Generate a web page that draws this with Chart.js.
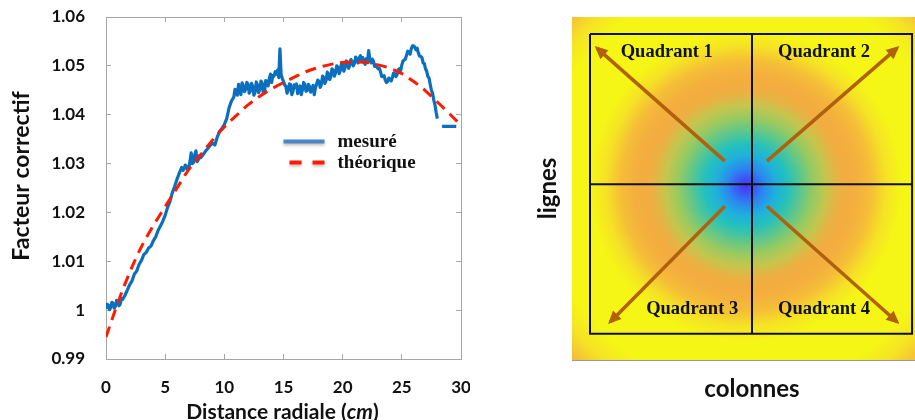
<!DOCTYPE html>
<html><head><meta charset="utf-8">
<script src="https://cdn.jsdelivr.net/npm/chart.js@4.4.1/dist/chart.umd.min.js"></script>
<style>
html,body{margin:0;padding:0;background:#fff;overflow:hidden;width:915px;height:420px;}
#w1{position:absolute;left:0;top:0;width:470px;height:420px;}
#w2{position:absolute;left:530px;top:0;width:402px;height:420px;}
</style></head><body>
<div id="w1"><canvas id="c1" width="470" height="420"></canvas></div>
<div id="w2"><canvas id="c2" width="402" height="420"></canvas></div>
<script>
// ================= DATA =================
// Left chart: correction factor vs radial distance (cm)
const measuredX = [
 0.0,0.1,0.2,0.3,0.4,0.5,0.6,0.7,0.8,0.9,1.0,1.1,1.2,1.3,1.4,
 1.6,1.8,2.0,2.2,2.4,2.6,2.8,3.0,3.2,3.4,3.6,3.8,4.0,4.2,4.4,4.6,4.8,5.0,5.2,5.4,5.6,5.8,6.0,6.2,
 6.4,6.5,6.6,6.7,6.8,6.9,7.0,7.1,7.2,7.3,7.4,7.5,7.6,7.7,7.8,7.9,8.0,
 8.2,8.4,8.6,8.8,9.0,9.2,9.4,9.6,9.8,10.0,10.2,10.4,10.6,
 10.8,10.9,11.0,11.1,11.2,11.3,11.4,11.5,11.6,11.7,11.8,11.9,
 12.0,12.1,12.2,12.3,12.4,12.5,12.6,12.7,12.8,12.9,
 13.0,13.1,13.2,13.3,13.4,13.5,13.6,13.7,13.8,13.9,
 14.0,14.1,14.2,14.3,14.4,14.5,14.6,14.7,14.8,14.9,
 15.0,15.1,15.2,15.3,15.4,15.5,15.6,15.7,15.8,15.9,
 16.0,16.1,16.2,16.3,16.4,16.5,16.6,16.7,16.8,16.9,
 17.0,17.1,17.2,17.3,17.4,17.5,17.6,17.7,17.8,17.9,
 18.0,18.1,18.2,18.3,18.4,18.5,18.6,18.7,18.8,18.9,
 19.0,19.1,19.2,19.3,19.4,19.5,19.6,19.7,19.8,19.9,
 20.0,20.1,20.2,20.3,20.4,20.5,20.6,20.7,20.8,20.9,
 21.0,21.1,21.2,21.3,21.4,21.5,21.6,21.7,21.8,21.9,
 22.0,22.1,22.2,22.3,22.4,22.5,22.6,22.7,22.8,22.9,
 23.0,23.1,23.2,23.3,23.4,23.5,23.6,23.7,23.8,23.9,
 24.0,24.1,24.2,24.3,24.4,24.5,24.6,24.7,24.8,24.9,
 25.0,25.1,25.2,25.3,25.4,25.5,25.6,25.7,25.8,25.9,
 26.0,26.1,26.2,26.3,26.4,26.5,26.6,26.7,26.8,26.9,
 27.0,27.1,27.2,27.3,27.4,27.5,27.6,27.7,27.8,27.9,
 28.0,28.2,28.4,29.6];
const measuredY = [
 1.0003,1.0012,1.0010,1.0001,1.0005,1.0016,1.0014,1.0004,1.0008,1.0020,1.0018,1.0009,1.0012,1.0024,1.0022,
 1.0030,1.0041,1.0052,1.0060,1.0074,1.0080,1.0094,1.0102,1.0114,1.0118,1.0127,1.0131,1.0142,1.0150,1.0163,1.0172,1.0182,1.0194,1.0210,1.0222,1.0240,1.0253,1.0268,1.0281,
 1.0292,1.0286,1.0289,1.0297,1.0294,1.0288,1.0291,1.0305,1.0322,1.0300,1.0302,1.0318,1.0326,1.0304,1.0308,1.0316,1.0312,
 1.0318,1.0325,1.0331,1.0337,1.0342,1.0338,1.0354,1.0366,1.0372,1.0380,1.0392,1.0414,1.0428,
 1.0436,1.0452,1.0449,1.0440,1.0462,1.0454,1.0441,1.0465,1.0460,1.0447,1.0452,1.0466,
 1.0463,1.0444,1.0449,1.0464,1.0458,1.0440,1.0446,1.0467,1.0461,1.0445,
 1.0452,1.0469,1.0465,1.0443,1.0447,1.0470,1.0468,1.0459,1.0474,1.0483,
 1.0466,1.0480,1.0479,1.0488,1.0483,1.0491,1.0476,1.0535,1.0482,1.0474,
 1.0468,1.0461,1.0458,1.0444,1.0450,1.0463,1.0462,1.0441,1.0447,1.0461,
 1.0456,1.0463,1.0443,1.0452,1.0459,1.0441,1.0451,1.0466,1.0462,1.0448,
 1.0449,1.0462,1.0458,1.0446,1.0452,1.0460,1.0441,1.0455,1.0463,1.0471,
 1.0468,1.0456,1.0461,1.0479,1.0476,1.0464,1.0470,1.0487,1.0484,1.0472,
 1.0478,1.0494,1.0491,1.0479,1.0486,1.0500,1.0497,1.0484,1.0490,1.0506,
 1.0502,1.0489,1.0496,1.0510,1.0507,1.0495,1.0501,1.0513,1.0509,1.0500,
 1.0505,1.0518,1.0513,1.0506,1.0516,1.0521,1.0512,1.0517,1.0508,1.0503,
 1.0515,1.0509,1.0531,1.0512,1.0506,1.0514,1.0510,1.0499,1.0502,1.0497,
 1.0494,1.0495,1.0488,1.0478,1.0479,1.0480,1.0471,1.0466,1.0468,1.0475,
 1.0472,1.0469,1.0476,1.0485,1.0484,1.0478,1.0482,1.0492,1.0494,1.0490,
 1.0502,1.0510,1.0512,1.0514,1.0522,1.0530,1.0528,1.0524,1.0535,1.0541,
 1.0541,1.0538,1.0533,1.0536,1.0526,1.0520,1.0519,1.0517,1.0506,1.0505,
 1.0494,1.0489,1.0478,1.0475,1.0462,1.0450,1.0444,1.0430,1.0420,1.0405,
 1.0392,null,1.0376,1.0376];
const theoryX = [0,1,2,3,4,5,6,7,8,9,10,11,12,13,14,15,16,17,18,19,20,21,22,23,24,25,26,27,28,29,30];
const theoryY = [0.9945,1.0015,1.0077,1.0130,1.0173,1.0212,1.0250,1.0288,1.0318,1.0348,1.0375,
 1.0398,1.0420,1.0438,1.0453,1.0466,1.0478,1.0489,1.0497,1.0503,1.0507,
 1.0508,1.0507,1.0502,1.0495,1.0484,1.0468,1.0449,1.0426,1.0403,1.0378];
const xTickValues = [0,5,10,15,20,25,30];
const xTickLabels = ['0','5','10','15','20','25','30'];
const yTickValues = [0.99,1.00,1.01,1.02,1.03,1.04,1.05,1.06];
const yTickLabels = ['0.99','1','1.01','1.02','1.03','1.04','1.05','1.06'];
const seriesNames = ['mesuré','théorique'];

// Right chart: radial map (lignes x colonnes)
const mapTicks = [1,2,3,4,5,6];
const heatCenter = [3.14, 3.15];
const heatRadius = [0,0.144,0.325,0.542,0.758,0.993,1.227,1.444,1.661,1.805,2.022,2.256,2.527,2.798,3.700,4.061,4.422,4.783];
const heatValue  = [0,0.08,0.20,0.32,0.43,0.54,0.63,0.70,0.77,0.80,0.82,0.88,0.95,1.00,1.00,0.95,0.86,0.80];
const quadX = [0.325, 3.25, 6.14];
const quadY = [0.317, 3.12, 5.91];
const arrowFrom = [[2.76,2.69],[3.52,2.69],[2.76,3.53],[3.52,3.53]];
const arrowTo   = [[0.45,0.58],[5.87,0.58],[0.69,5.69],[5.87,5.69]];
const quadNames = ['Quadrant 1','Quadrant 2','Quadrant 3','Quadrant 4'];
const quadLabelAt = [[1.71,0.65],[4.55,0.65],[2.17,5.45],[4.55,5.45]];

// ================= STYLE =================
const SANS = "Lato, 'Open Sans', sans-serif";
const SERIF = "'Liberation Serif', 'DejaVu Serif', serif";
const AXIS_GREY = '#a6a6a6';
const BLUE = '#0b6fbf', RED = '#ff1a00', BROWN = '#b1600c';
const cmap = [
 [0.00,[75,51,240]],[0.08,[61,85,245]],[0.20,[44,134,240]],[0.32,[31,176,220]],
 [0.42,[32,192,192]],[0.52,[80,198,150]],[0.62,[145,202,100]],[0.70,[195,198,78]],
 [0.76,[230,180,68]],[0.80,[243,172,64]],[0.88,[245,190,55]],[0.94,[245,222,40]],[1.00,[245,245,22]]
];
function colorAt(v){
  for (let i=1;i<cmap.length;i++){
    if (v <= cmap[i][0]) {
      const a=cmap[i-1], b=cmap[i], t=(v-a[0])/(b[0]-a[0]);
      const c=a[1].map((q,k)=>Math.round(q+(b[1][k]-q)*t));
      return `rgb(${c[0]},${c[1]},${c[2]})`;
    }
  }
  const c=cmap[cmap.length-1][1]; return `rgb(${c[0]},${c[1]},${c[2]})`;
}
Chart.defaults.animation = false;
Chart.defaults.font.family = SANS;

const fixSize = (w, h) => s => {
  if (w !== null) s.width = w;
  if (h !== null) s.height = h;
  s.paddingTop = 0; s.paddingBottom = 0; s.paddingLeft = 0; s.paddingRight = 0;
};

// ================= LEFT CHART =================
const pts = (xs, ys) => xs.map((x,i)=>({x:x, y:ys[i]}));
const tickAxis = (extra) => Object.assign({
  type:'linear',
  grid:{drawOnChartArea:false, drawTicks:true, tickLength:-5, color:AXIS_GREY, lineWidth:1},
  border:{display:true, color:AXIS_GREY, width:1}
}, extra);

const leftDecor = {
  id:'leftDecor',
  afterDraw(chart){
    const c = chart.ctx, {x, y} = chart.scales, a = chart.chartArea;
    c.save();
    c.fillStyle = '#111';
    c.font = `bold 23px ${SANS}`;
    c.textAlign = 'center'; c.textBaseline = 'middle';
    c.translate(22, a.top + 159); c.rotate(-Math.PI/2);
    c.fillText('Facteur correctif', 0, 0);
    c.setTransform(1,0,0,1,0,0);
    const parts = [['Distance radiale (', 'bold'], ['cm', 'italic bold'], [')', 'bold']];
    let total = 0;
    parts.forEach(p => { c.font = `${p[1]} 21px ${SANS}`; total += c.measureText(p[0]).width; });
    let px = (a.left + a.right)/2 - 1 - total/2;
    c.textAlign = 'left'; c.textBaseline = 'middle';
    parts.forEach(p => { c.font = `${p[1]} 21px ${SANS}`; c.fillText(p[0], px, 412); px += c.measureText(p[0]).width; });
    // legend
    const lx = x.getPixelForValue(15.0), ly1 = y.getPixelForValue(1.0345), ly2 = y.getPixelForValue(1.0302);
    c.shadowColor = 'rgba(0,0,0,0.25)'; c.shadowBlur = 3; c.shadowOffsetY = 2;
    c.lineWidth = 4; c.lineCap = 'butt';
    c.strokeStyle = '#4a86c8';
    c.beginPath(); c.moveTo(lx, ly1); c.lineTo(lx+41, ly1); c.stroke();
    c.strokeStyle = RED;
    c.beginPath(); c.moveTo(lx+6, ly2); c.lineTo(lx+18, ly2); c.moveTo(lx+29, ly2); c.lineTo(lx+41, ly2); c.stroke();
    c.shadowColor = 'transparent';
    c.fillStyle = '#111';
    c.font = `bold 19px ${SERIF}`;
    c.textAlign = 'left'; c.textBaseline = 'alphabetic';
    c.fillText(seriesNames[0], lx+54, ly1+5);
    c.fillText(seriesNames[1], lx+54, ly2+5);
    c.restore();
  }
};

new Chart(document.getElementById('c1'), {
  type:'scatter',
  data:{datasets:[
    {label:seriesNames[1], data:pts(theoryX, theoryY), showLine:true, borderColor:RED, borderWidth:3,
     borderDash:[11,7], pointRadius:0, cubicInterpolationMode:'monotone', fill:false},
    {label:seriesNames[0], data:pts(measuredX, measuredY), showLine:true, borderColor:BLUE, borderWidth:3.2,
     pointRadius:0, tension:0, spanGaps:false, borderJoinStyle:'round', fill:false}
  ]},
  options:{
    responsive:false, devicePixelRatio:1, events:[],
    layout:{autoPadding:false, padding:{left:0,right:9,top:17,bottom:0}},
    plugins:{legend:{display:false}, tooltip:{enabled:false}},
    scales:{
      x: tickAxis({position:'bottom', min:0, max:30,
        afterBuildTicks:s=>{s.ticks = xTickValues.map(v=>({value:v}));},
        ticks:{callback:(v,i)=>xTickLabels[i], font:{size:17, weight:'bold'}, color:'#111', padding:23, maxRotation:0, autoSkip:false},
        afterFit:fixSize(null, 61)}),
      x2: tickAxis({position:'top', min:0, max:30,
        afterBuildTicks:s=>{s.ticks = xTickValues.map(v=>({value:v}));},
        ticks:{display:false}, afterFit:fixSize(null, 0)}),
      y: tickAxis({position:'left', min:0.99, max:1.06,
        afterBuildTicks:s=>{s.ticks = yTickValues.map(v=>({value:v}));},
        ticks:{callback:(v,i)=>yTickLabels[i], font:{size:17, weight:'bold'}, color:'#111', padding:26, autoSkip:false},
        afterFit:fixSize(106, null)}),
      y2: tickAxis({position:'right', min:0.99, max:1.06,
        afterBuildTicks:s=>{s.ticks = yTickValues.map(v=>({value:v}));},
        ticks:{display:false}, afterFit:fixSize(0, null)})
    }
  },
  plugins:[leftDecor]
});

// ================= RIGHT CHART =================
function heatPx(chart, r){
  const s = chart.scales.x;
  if (!chart.chartArea || !s) return 3;
  return Math.abs(s.getPixelForValue(heatCenter[0] + r) - s.getPixelForValue(heatCenter[0]));
}
function heatFill(chart){
  const {x, y} = chart.scales;
  if (!chart.chartArea || !x || !y) return colorAt(1);
  const cx = x.getPixelForValue(heatCenter[0]), cy = y.getPixelForValue(heatCenter[1]);
  const rMax = heatRadius[heatRadius.length-1];
  const g = chart.ctx.createRadialGradient(cx, cy, 0, cx, cy, heatPx(chart, rMax));
  heatRadius.forEach((r,i)=>g.addColorStop(r/rMax, colorAt(heatValue[i])));
  return g;
}
const quadLines = [
  [[quadX[0],quadY[0]],[quadX[2],quadY[0]],[quadX[2],quadY[2]],[quadX[0],quadY[2]],[quadX[0],quadY[0]]],
  [[quadX[1],quadY[0]],[quadX[1],quadY[2]]],
  [[quadX[0],quadY[1]],[quadX[2],quadY[1]]]
];
const lineDs = (pp, color, w) => ({data:pp.map(p=>({x:p[0], y:p[1]})), showLine:true, borderColor:color,
  borderWidth:w, pointRadius:0, tension:0, fill:false, order:1, borderCapStyle:'butt'});

const rightDecor = {
  id:'rightDecor',
  afterDatasetsDraw(chart){
    const c = chart.ctx, {x, y} = chart.scales;
    c.save();
    c.fillStyle = BROWN;
    arrowTo.forEach((t,i)=>{
      const f = arrowFrom[i];
      const x0 = x.getPixelForValue(f[0]), y0 = y.getPixelForValue(f[1]);
      const x1 = x.getPixelForValue(t[0]), y1 = y.getPixelForValue(t[1]);
      const ang = Math.atan2(y1-y0, x1-x0);
      const tx = x1 + 3*Math.cos(ang), ty = y1 + 3*Math.sin(ang);
      c.save(); c.translate(tx, ty); c.rotate(ang);
      c.beginPath(); c.moveTo(0,0); c.lineTo(-13,-6); c.lineTo(-13,6); c.closePath(); c.fill();
      c.restore();
    });
    c.fillStyle = '#111';
    c.font = `bold 18.5px ${SERIF}`;
    c.textAlign = 'center'; c.textBaseline = 'middle';
    quadNames.forEach((n,i)=>c.fillText(n, x.getPixelForValue(quadLabelAt[i][0]), y.getPixelForValue(quadLabelAt[i][1])));
    c.restore();
  }
};

const mapAxis = (extra) => tickAxis(Object.assign({
  grid:{drawOnChartArea:false, drawTicks:true, tickLength:-4, color:'#9a9a9a', lineWidth:1},
  border:{display:true, color:'#9a9a9a', width:1}, z:1
}, extra));

new Chart(document.getElementById('c2'), {
  type:'scatter',
  data:{datasets:[
    lineDs(quadLines[0], '#111', 2),
    lineDs(quadLines[1], '#111', 2),
    lineDs(quadLines[2], '#111', 2),
    ...arrowFrom.map((f,i)=>lineDs([f, arrowTo[i]], BROWN, 3.5)),
    {data:[{x:heatCenter[0], y:heatCenter[1]}], order:10, clip:0, pointStyle:'circle',
     pointBorderWidth:0, pointRadius:ctx=>heatPx(ctx.chart, heatRadius[heatRadius.length-1]),
     pointHoverRadius:ctx=>heatPx(ctx.chart, heatRadius[heatRadius.length-1]),
     pointBackgroundColor:ctx=>heatFill(ctx.chart), pointHoverBackgroundColor:ctx=>heatFill(ctx.chart)}
  ]},
  options:{
    responsive:false, devicePixelRatio:1, events:[],
    layout:{autoPadding:false, padding:{left:0,right:0,top:17,bottom:0}},
    plugins:{legend:{display:false}, tooltip:{enabled:false}},
    scales:{
      x: mapAxis({position:'bottom', min:0, max:6.5,
        afterBuildTicks:s=>{s.ticks = mapTicks.map(v=>({value:v}));},
        ticks:{display:false},
        title:{display:true, text:'colonnes', font:{size:24, weight:'bold'}, color:'#111', padding:{top:0,bottom:16}},
        afterFit:fixSize(null, 60)}),
      x2: mapAxis({position:'top', min:0, max:6.5,
        afterBuildTicks:s=>{s.ticks = mapTicks.map(v=>({value:v}));},
        ticks:{display:false}, afterFit:fixSize(null, 0)}),
      y: mapAxis({position:'left', min:0, max:6.4, reverse:true,
        afterBuildTicks:s=>{s.ticks = mapTicks.map(v=>({value:v}));},
        ticks:{display:false},
        title:{display:true, text:'lignes', font:{size:24, weight:'bold'}, color:'#111', padding:{top:4,bottom:0}},
        afterFit:fixSize(42, null)})
    }
  },
  plugins:[rightDecor]
});
</script>
</body></html>
